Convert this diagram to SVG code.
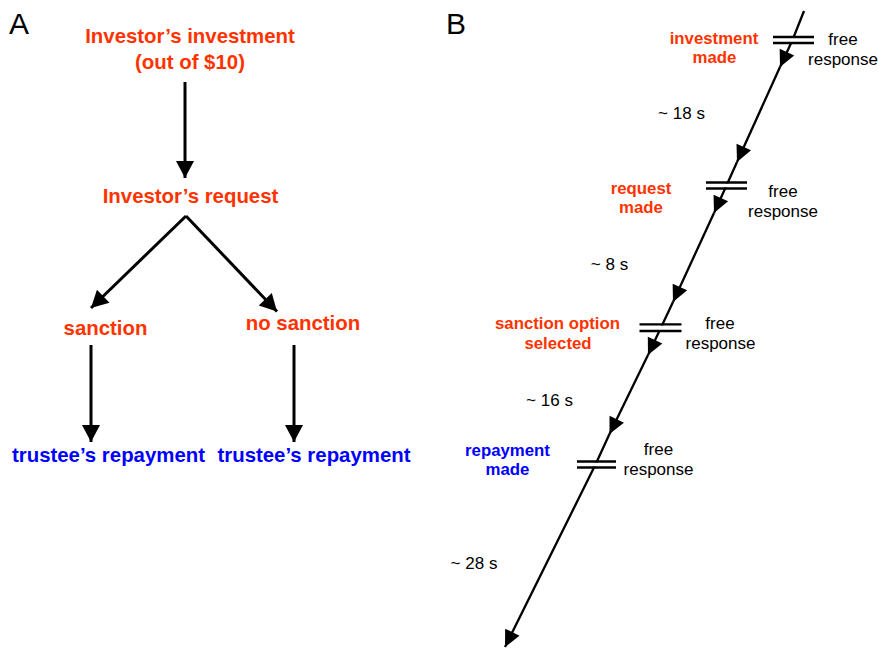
<svg xmlns="http://www.w3.org/2000/svg" width="878" height="652" viewBox="0 0 878 652">
<style>
text{font-family:"Liberation Sans",Arial,sans-serif;text-anchor:middle}
.panel{font-size:30px;fill:#000;text-anchor:start}
.a{font-size:20.4px;font-weight:bold}
.or{fill:#FF3300}
.bl{fill:#0000FF}
.b{font-size:16.8px;font-weight:bold}
.r{font-size:17px;fill:#000}
.ca{stroke:#000;stroke-width:3;fill:none}
.cb{stroke:#000;stroke-width:2.3;fill:none}
.bar{stroke:#000;stroke-width:2.4}
</style>
<defs>
<marker id="ha" markerUnits="userSpaceOnUse" markerWidth="20" markerHeight="20" viewBox="-18 -10 20 20" refX="0" refY="0" orient="auto">
<path d="M0,0 L-17,-9 L-17,9 Z" fill="#000"/>
</marker>
<marker id="hb" markerUnits="userSpaceOnUse" markerWidth="20" markerHeight="20" viewBox="-18 -10 20 20" refX="0" refY="0" orient="auto">
<path d="M0,0 L-16.5,-8 L-16.5,8 Z" fill="#000"/>
</marker>
</defs>
<text class="panel" x="9" y="34">A</text>
<text class="panel" x="446" y="34">B</text>
<g id="connectors">
<path class="ca" d="M185,82 L185,178" marker-end="url(#ha)"/>
<path class="ca" d="M186,216 L91,308" marker-end="url(#ha)"/>
<path class="ca" d="M186,216 L277,311.5" marker-end="url(#ha)"/>
<path class="ca" d="M91,345 L91,442" marker-end="url(#ha)"/>
<path class="ca" d="M294,345 L294,442" marker-end="url(#ha)"/>
<path class="cb" d="M804,11 L792.5,40 L780,67" marker-end="url(#hb)"/>
<path class="cb" d="M780,67 L737,162" marker-end="url(#hb)"/>
<path class="cb" d="M737,162 L726.5,185.5 L714,213" marker-end="url(#hb)"/>
<path class="cb" d="M714,213 L673,302" marker-end="url(#hb)"/>
<path class="cb" d="M673,302 L661,327.5 L648,355" marker-end="url(#hb)"/>
<path class="cb" d="M648,355 L609.5,434" marker-end="url(#hb)"/>
<path class="cb" d="M609.5,434 L595.5,464.5 L505,647" marker-end="url(#hb)"/>
</g>
<g id="bar1">
<rect x="773" y="38" width="41" height="4" fill="#fff"/>
<line class="bar" x1="773" y1="37" x2="814" y2="37"/>
<line class="bar" x1="773" y1="43" x2="814" y2="43"/>
</g>
<g id="bar2">
<rect x="706" y="183.5" width="41" height="4" fill="#fff"/>
<line class="bar" x1="706" y1="182.5" x2="747" y2="182.5"/>
<line class="bar" x1="706" y1="188.5" x2="747" y2="188.5"/>
</g>
<g id="bar3">
<rect x="639.5" y="325.5" width="42" height="4.5" fill="#fff"/>
<line class="bar" x1="639.5" y1="324.4" x2="681.5" y2="324.4"/>
<line class="bar" x1="639.5" y1="331" x2="681.5" y2="331"/>
</g>
<g id="bar4">
<rect x="577" y="462.5" width="39" height="4" fill="#fff"/>
<line class="bar" x1="577" y1="461.5" x2="616" y2="461.5"/>
<line class="bar" x1="577" y1="467.5" x2="616" y2="467.5"/>
</g>
<g id="investment">
<text class="a or" x="190" y="43">Investor’s investment</text>
<text class="a or" x="190" y="68.5">(out of $10)</text>
</g>
<g id="request">
<text class="a or" x="190.5" y="203">Investor’s request</text>
</g>
<g id="sanction">
<text class="a or" x="105.5" y="335">sanction</text>
</g>
<g id="no-sanction">
<text class="a or" x="303" y="330">no sanction</text>
</g>
<g id="repay-left">
<text class="a bl" x="108.5" y="461.5">trustee’s repayment</text>
</g>
<g id="repay-right">
<text class="a bl" x="314" y="461.5">trustee’s repayment</text>
</g>
<g id="ev-investment">
<text class="b or" x="714" y="44">investment</text>
<text class="b or" x="714.5" y="63">made</text>
<text class="r" x="843" y="45">free</text>
<text class="r" x="843" y="65">response</text>
</g>
<g id="t18"><text class="r" x="681.5" y="119">~ 18 s</text></g>
<g id="ev-request">
<text class="b or" x="641" y="193.5">request</text>
<text class="b or" x="641" y="213">made</text>
<text class="r" x="783" y="197">free</text>
<text class="r" x="783" y="216.5">response</text>
</g>
<g id="t8"><text class="r" x="609.5" y="270">~ 8 s</text></g>
<g id="ev-sanction">
<text class="b or" x="557.5" y="329">sanction option</text>
<text class="b or" x="558" y="349">selected</text>
<text class="r" x="720" y="329">free</text>
<text class="r" x="720.5" y="349">response</text>
</g>
<g id="t16"><text class="r" x="549.5" y="405.5">~ 16 s</text></g>
<g id="ev-repayment">
<text class="b bl" x="507.5" y="455.5">repayment</text>
<text class="b bl" x="507.5" y="475">made</text>
<text class="r" x="658.5" y="455">free</text>
<text class="r" x="658.5" y="475">response</text>
</g>
<g id="t28"><text class="r" x="474" y="569">~ 28 s</text></g>
</svg>
